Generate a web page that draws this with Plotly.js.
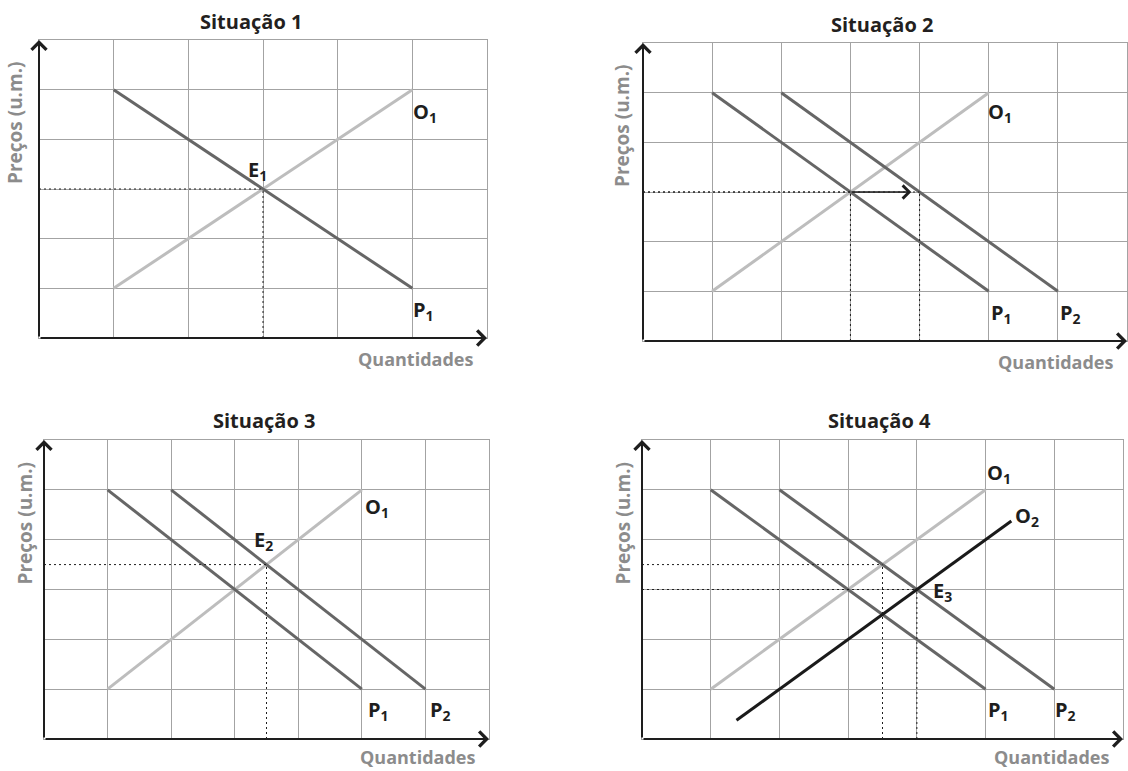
<!DOCTYPE html>
<html>
<head>
<meta charset="utf-8">
<script src="https://cdn.plot.ly/plotly-3.0.1.min.js"></script>
<style>
  html, body { margin: 0; padding: 0; background: #fff; }
</style>
</head>
<body>
<div id="myDiv"></div>
<script>
// curve end points (grid units)
var demand1X = [1, 5];
var demand2X = [2, 6];
var demandY = [5, 1];
var supply1X = [1, 5];
var supply1Y = [1, 5];
var supply2X = [1.375, 5.375];
var supply2Y = [0.375, 4.375];

// equilibrium points
var eq1 = [3, 3];
var eq2 = [3.5, 3.5];
var eq3 = [4, 3];
var shiftPoint = [4, 3];   // P2 at the old price
var shiftTip = [3.88, 3];  // end of the shift arrow

var titles = ['Situação 1', 'Situação 2', 'Situação 3', 'Situação 4'];
var yTitle = 'Preços (u.m.)';
var xTitle = 'Quantidades';

var W = 1128, H = 771;
var FONT = '"Open Sans", Roboto, sans-serif';
var DARK = '#666666', LIGHT = '#bdbdbd', INK = '#1e1e1e', GREY = '#8c8c8c';

function px(x) { return x / W; }
function py(y) { return 1 - y / H; }
function xid(n) { return n === 1 ? 'x' : 'x' + n; }
function yid(n) { return n === 1 ? 'y' : 'y' + n; }

function line(n, xs, ys, color) {
    return {
        x: xs, y: ys, xaxis: xid(n), yaxis: yid(n),
        mode: 'lines', type: 'scatter', hoverinfo: 'skip', cliponaxis: false,
        line: {color: color, width: 3}
    };
}

function guides(n, pt) {
    // dotted lines from a point to both axes
    return [
        {x: [0, pt[0]], y: [pt[1], pt[1]], xaxis: xid(n), yaxis: yid(n), mode: 'lines',
         type: 'scatter', hoverinfo: 'skip', line: {color: INK, width: 1, dash: '2px,3px'}},
        {x: [pt[0], pt[0]], y: [0, pt[1]], xaxis: xid(n), yaxis: yid(n), mode: 'lines',
         type: 'scatter', hoverinfo: 'skip', line: {color: INK, width: 1, dash: '2px,3px'}}
    ];
}

function arrow(n, x0, y0, x1, y1, w, size) {
    return {
        xref: xid(n), yref: yid(n), axref: xid(n), ayref: yid(n),
        x: x1, y: y1, ax: x0, ay: y0, text: '', showarrow: true,
        arrowhead: 4, arrowsize: size, arrowwidth: w, arrowcolor: INK, standoff: 0
    };
}

function label(n, txt, x, y) {
    return {
        xref: xid(n), yref: yid(n), x: x, y: y, text: txt, showarrow: false,
        xanchor: 'left', yanchor: 'middle', borderpad: 0,
        font: {family: FONT, size: 20, weight: 700, color: INK}
    };
}

var data = [];
// Situação 1
data.push(line(1, supply1X, supply1Y, LIGHT));
data.push(line(1, demand1X, demandY, DARK));
data = data.concat(guides(1, eq1));
// Situação 2
data.push(line(2, supply1X, supply1Y, LIGHT));
data.push(line(2, demand1X, demandY, DARK));
data.push(line(2, demand2X, demandY, DARK));
data = data.concat(guides(2, eq1));
data = data.concat(guides(2, shiftPoint));
// Situação 3
data.push(line(3, supply1X, supply1Y, LIGHT));
data.push(line(3, demand1X, demandY, DARK));
data.push(line(3, demand2X, demandY, DARK));
data = data.concat(guides(3, eq2));
// Situação 4
data.push(line(4, supply1X, supply1Y, LIGHT));
data.push(line(4, demand1X, demandY, DARK));
data.push(line(4, demand2X, demandY, DARK));
data = data.concat(guides(4, eq2));
data = data.concat(guides(4, eq3));
data.push(line(4, supply2X, supply2Y, '#1a1a1a'));

// grid boxes in pixels: left, right, top, bottom
var boxes = [
    [39, 487, 40, 338],
    [643, 1127, 43, 341],
    [44, 489, 440, 739],
    [642, 1123, 440, 739]
];
var cols = [6, 7, 7, 7];

var layout = {
    width: W, height: H,
    margin: {l: 0, r: 0, t: 0, b: 0},
    paper_bgcolor: '#fff', plot_bgcolor: '#fff',
    showlegend: false,
    annotations: [],
    shapes: []
};

for (var i = 0; i < 4; i++) {
    var n = i + 1, b = boxes[i];
    var ax = {
        domain: [px(b[0]), px(b[1])], range: [0, cols[i]], anchor: yid(n),
        dtick: 1, tick0: 0, showticklabels: false, ticks: '', zeroline: false,
        showgrid: true, gridcolor: '#a3a3a3', gridwidth: 1,
        showline: true, mirror: true, linecolor: '#a3a3a3', linewidth: 1, fixedrange: true
    };
    var ay = {
        domain: [py(b[3]), py(b[2])], range: [0, 6], anchor: xid(n),
        dtick: 1, tick0: 0, showticklabels: false, ticks: '', zeroline: false,
        showgrid: true, gridcolor: '#a3a3a3', gridwidth: 1,
        showline: true, mirror: true, linecolor: '#a3a3a3', linewidth: 1, fixedrange: true
    };
    layout['xaxis' + (n === 1 ? '' : n)] = ax;
    layout['yaxis' + (n === 1 ? '' : n)] = ay;

    // black axes with arrows
    layout.annotations.push(arrow(n, 0, 0, cols[i], 0, 2, 1.45));
    layout.annotations.push(arrow(n, 0, 0, 0, 6, 2, 1.45));

    var mid = (b[0] + b[1]) / 2;
    layout.annotations.push({
        xref: 'paper', yref: 'paper', x: px(i === 0 ? 251 : mid - 3), y: py(b[2] - 19),
        text: titles[i], showarrow: false, xanchor: 'center', yanchor: 'middle', borderpad: 0,
        font: {family: FONT, size: 20, weight: 700, color: '#231f20'}
    });
    layout.annotations.push({
        xref: 'paper', yref: 'paper', x: px(i % 2 === 0 ? (i === 0 ? 15 : 24) : 622),
        y: py((b[2] + b[3]) / 2 - 66), text: yTitle, showarrow: false, textangle: -90,
        xanchor: 'center', yanchor: 'middle', borderpad: 0,
        font: {family: FONT, size: 19, weight: 700, color: GREY}
    });
    layout.annotations.push({
        xref: 'paper', yref: 'paper', x: px(b[1] - 13), y: py(Math.min(b[3] + 21, 757)),
        text: xTitle, showarrow: false, xanchor: 'right', yanchor: 'middle', borderpad: 0,
        font: {family: FONT, size: 18, weight: 700, color: GREY}
    });
}

// curve labels
layout.annotations.push(label(1, 'O<sub>1</sub>', 5.0, 4.55));
layout.annotations.push(label(1, 'P<sub>1</sub>', 5.0, 0.55));
layout.annotations.push(label(1, 'E<sub>1</sub>', 2.78, 3.38));

layout.annotations.push(label(2, 'O<sub>1</sub>', 4.98, 4.6));
layout.annotations.push(label(2, 'P<sub>1</sub>', 5.02, 0.55));
layout.annotations.push(label(2, 'P<sub>2</sub>', 6.02, 0.55));
layout.annotations.push(arrow(2, eq1[0], eq1[1], shiftTip[0], shiftTip[1], 1.5, 1.7));

layout.annotations.push(label(3, 'O<sub>1</sub>', 5.03, 4.65));
layout.annotations.push(label(3, 'P<sub>1</sub>', 5.08, 0.57));
layout.annotations.push(label(3, 'P<sub>2</sub>', 6.06, 0.57));
layout.annotations.push(label(3, 'E<sub>2</sub>', 3.28, 3.98));

layout.annotations.push(label(4, 'O<sub>1</sub>', 5.0, 5.32));
layout.annotations.push(label(4, 'O<sub>2</sub>', 5.42, 4.46));
layout.annotations.push(label(4, 'E<sub>3</sub>', 4.22, 2.95));
layout.annotations.push(label(4, 'P<sub>1</sub>', 5.02, 0.57));
layout.annotations.push(label(4, 'P<sub>2</sub>', 6.0, 0.57));

Plotly.newPlot('myDiv', data, layout, {displayModeBar: false, staticPlot: true});
</script>
</body>
</html>
